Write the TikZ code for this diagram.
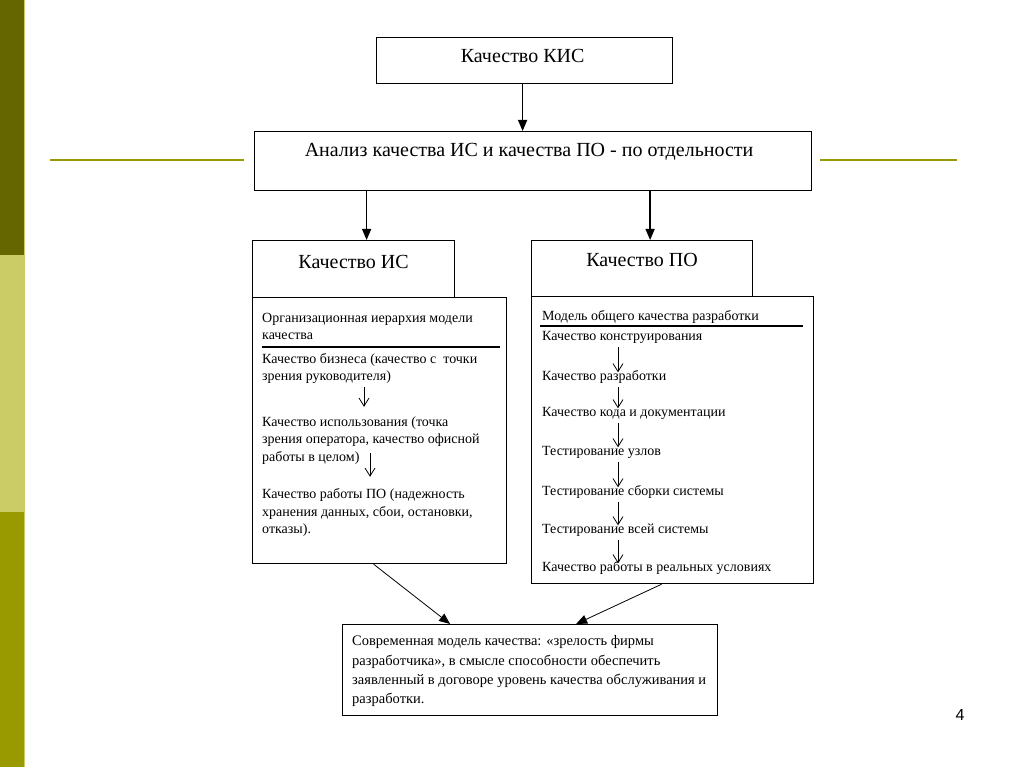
\documentclass[tikz,border=0pt]{standalone}
\usepackage{fontspec}
\setmainfont{Liberation Serif}
\setsansfont{Liberation Sans}
\usetikzlibrary{arrows.meta}
\definecolor{olivedark}{HTML}{666600}
\definecolor{olivelight}{HTML}{CCCC66}
\definecolor{olivemid}{HTML}{999900}
\begin{document}
\begin{tikzpicture}[x=1pt,y=-1pt,%
% common options for the boxes:
box/.style = {draw, line width=1.2pt, fill=white, anchor=north west, inner sep=0},
% headings of the boxes:
title/.style = {anchor=base, inner sep=0, font=\fontsize{20}{23}\selectfont},
% one line of text in a box:
item/.style = {anchor=base west, inner sep=0, text height=10pt, text depth=3pt,
            font=\fontsize{14}{17.5}\selectfont},
% arrows between the boxes:
bigarrow/.style = {-{Triangle[width=9pt,length=11pt]}, line width=1.4pt},
% small arrows inside the lists:
steparrow/.style = {-{Straight Barb[width=10pt,length=8pt]}, line width=0.8pt},
rule/.style = {line width=2pt},
decor/.style = {draw=olivemid, line width=2.5pt}]
\useasboundingbox (0,0) rectangle (1024,767);
% side bar and slide lines
\fill[olivedark] (0,0) rectangle (24,255);
\fill[olivelight] (0,255) rectangle (24,512);
\fill[olivemid] (0,512) rectangle (24,767);
\draw[olivelight, line width=1pt] (24.5,0) -- (24.5,767);
\draw[decor] (50,160) -- (244,160);
\draw[decor] (820,160) -- (957,160);
% boxes
\node[box, minimum width=296, minimum height=46] (kis) at (376,37) {};
\node[box, minimum width=557, minimum height=59] (analiz) at (254,131) {};
\node[box, minimum width=202, minimum height=57] (ish) at (252,240) {};
\node[box, minimum width=221, minimum height=56] (poh) at (531,240) {};
\node[box, minimum width=254, minimum height=266] (isb) at (252,297) {};
\node[box, minimum width=282, minimum height=287] (pob) at (531,296) {};
\node[box, minimum width=375, minimum height=91] (res) at (342,624) {};
% headings
\node[title] (kist) at ([xshift=-2pt,yshift=-26pt]kis.north) {Качество КИС};
\node[title] (analizt) at ([xshift=-4pt,yshift=-26pt]analiz.north) {Анализ качества ИС и качества ПО - по отдельности};
\node[title] (isht) at ([yshift=-28pt]ish.north) {Качество ИС};
\node[title] (poht) at ([yshift=-26pt]poh.north) {Качество ПО};
% left list
\node[item] (L1a) at (262,322.5) {Организационная иерархия модели};
\node[item] (L1b) at (262,339.5) {качества};
\node[item] (L2a) at (262,363.5) {Качество бизнеса (качество с\ \ точки};
\node[item] (L2b) at (262,380.5) {зрения руководителя)};
\node[item] (L3a) at (262,426.5) {Качество использования (точка};
\node[item] (L3b) at (262,443.5) {зрения оператора, качество офисной};
\node[item] (L3c) at (262,461.5) {работы в целом)};
\node[item] (L4a) at (262,498.5) {Качество работы ПО (надежность};
\node[item] (L4b) at (262,516.5) {хранения данных, сбои, остановки,};
\node[item] (L4c) at (262,533.5) {отказы).};
\draw[rule] (262,347) -- (500,347);
\draw[steparrow] ([xshift=102pt,yshift=-3.5pt]L2b.south west) -- ([xshift=102pt,yshift=9.5pt]L3a.north west);
\draw[steparrow] ([xshift=108pt,yshift=-1.5pt]L3c.north west) -- ([xshift=108pt,yshift=11.5pt]L4a.north west);
% right list
\node[item] (R0) at (542,320.5) {Модель общего качества разработки};
\node[item] (R1) at (542,340.5) {Качество конструирования};
\node[item] (R2) at (542,380.5) {Качество разработки};
\node[item] (R3) at (542,416.5) {Качество кода и документации};
\node[item] (R4) at (542,455.5) {Тестирование узлов};
\node[item] (R5) at (542,495.5) {Тестирование сборки системы};
\node[item] (R6) at (542,533.5) {Тестирование всей системы};
\node[item] (R7) at (542,571.5) {Качество работы в реальных условиях};
\draw[rule] (540,326) -- (803,326);
\foreach \a/\b in {R1/R2, R2/R3, R3/R4, R4/R5, R5/R6, R6/R7}
  \draw[steparrow] ([xshift=76pt,yshift=-3.5pt]\a.south west) -- ([xshift=76pt,yshift=-2pt]\b.north west);
% result box
\node[item, font=\fontsize{14.5}{17.5}\selectfont] (S1) at (352,645) {Современная модель качества: «зрелость фирмы};
\node[item, font=\fontsize{14.5}{17.5}\selectfont] (S2) at (352,665) {разработчика», в смысле способности обеспечить};
\node[item, font=\fontsize{14.5}{17.5}\selectfont] (S3) at (352,684) {заявленный в договоре уровень качества обслуживания и};
\node[item, font=\fontsize{14.5}{17.5}\selectfont] (S4) at (352,703) {разработки.};
% arrows
\path (ish.north) ++(13,0) coordinate (isin);
\path (poh.north) ++(8,0) coordinate (poin);
\draw[bigarrow] ([xshift=-2pt]kis.south) -- ([xshift=-2pt]kis.south |- analiz.north);
\draw[bigarrow] (isin |- analiz.south) -- (isin);
\draw[bigarrow] (poin |- analiz.south) -- (poin);
\draw[bigarrow, line width=0.8pt] ([xshift=-6pt]isb.south) -- ([xshift=-80pt]res.north);
\draw[bigarrow, line width=0.8pt] ([xshift=-11pt]pob.south) -- ([xshift=46pt]res.north);
% page number
\node[font=\sffamily\fontsize{16}{18}\selectfont, inner sep=0] (page) at (960,715) {4};
\end{tikzpicture}
\end{document}
